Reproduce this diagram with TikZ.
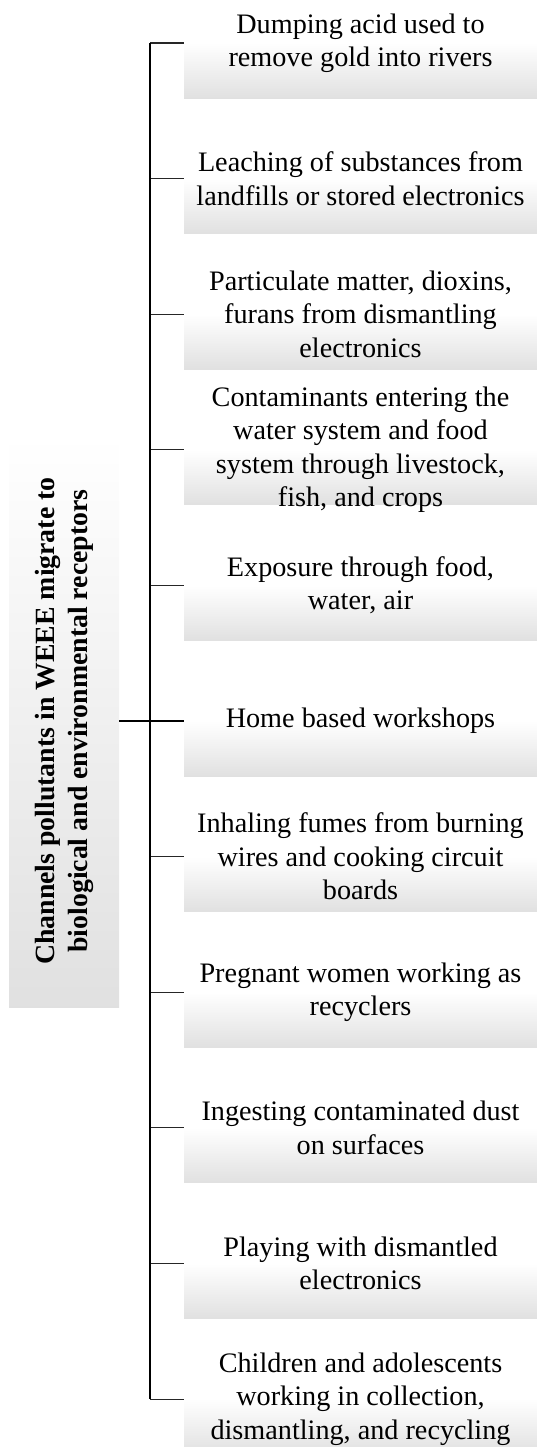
\documentclass[tikz,border=0pt]{standalone}
\usepackage{fontspec}
\setmainfont{Liberation Serif}
\usetikzlibrary{calc}
\tikzset{
  leafbox/.style={rectangle, minimum width=6.2cm, minimum height=1.933cm, inner sep=0pt,
    top color=white, bottom color=black!12, middle color=white},
  leaftext/.style={align=center, inner sep=0pt, font=\fontsize{14.1}{16.75}\selectfont},
  rootbox/.style={rectangle, minimum width=1.933cm, minimum height=10.05cm, inner sep=0pt,
    top color=white, bottom color=black!12},
  roottext/.style={align=center, inner sep=0pt, rotate=90, font=\bfseries\fontsize{13.9}{16.5}\selectfont},
  trunk/.style={line width=1pt, black},
  branch/.style={line width=0.6pt, black!85}
}
\def\leaf(#1,#2,#3){
  \node[leafbox] (#1) at (6.335,#2) {};
  \node[leaftext] (#1t) at (#1) {#3};
  \draw[branch] (#1.west -| tr) -- (#1.west);
}

\begin{document}
\begin{tikzpicture}
\useasboundingbox (0,0) rectangle (9.437,-25.428);
\node[rootbox] (root) at (1.125,-12.671) {};
\node[roottext] (roott) at (root) {Channels pollutants in WEEE migrate to\\biological and environmental receptors};
\coordinate (tr) at (2.636,-12.671);
\leaf(l1,-0.756,Dumping acid used to\\remove gold into rivers)
\leaf(l2,-3.139,Leaching of substances from\\landfills or stored electronics)
\leaf(l3,-5.522,Particulate matter, dioxins,\\furans from dismantling\\electronics)
\leaf(l4,-7.905,Contaminants entering the\\water system and food\\system through livestock,\\fish, and crops)
\leaf(l5,-10.288,Exposure through food,\\water, air)
\leaf(l6,-12.671,Home based workshops)
\leaf(l7,-15.054,Inhaling fumes from burning\\wires and cooking circuit\\boards)
\leaf(l8,-17.437,Pregnant women working as\\recyclers)
\leaf(l9,-19.820,Ingesting contaminated dust\\on surfaces)
\leaf(l10,-22.203,Playing with dismantled\\electronics)
\leaf(l11,-24.586,Children and adolescents\\working in collection,\\dismantling, and recycling)
\draw[trunk] (l1.west -| tr) -- (l11.west -| tr);
\draw[trunk] (root.east) -- (l6.west);
\end{tikzpicture}
\end{document}
